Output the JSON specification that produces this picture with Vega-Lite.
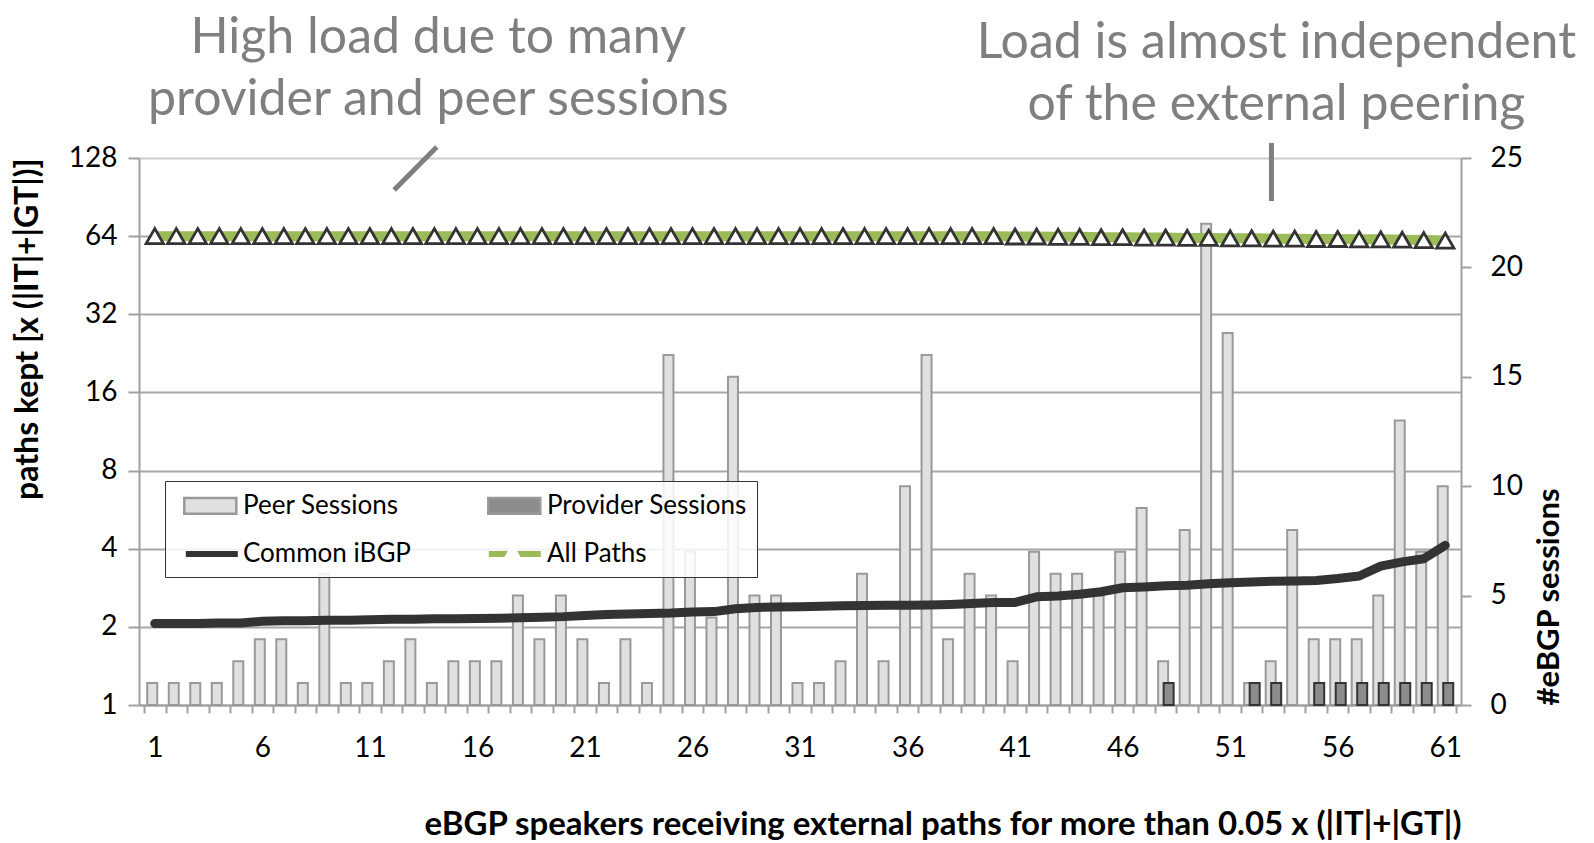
{
  "$schema": "https://vega.github.io/schema/vega-lite/v6.json",
  "width": 1322,
  "height": 547,
  "autosize": {"type": "none"},
  "padding": {"left": 139, "top": 158, "right": 133, "bottom": 138},
  "background": "white",
  "config": {
    "view": {"stroke": null},
    "font": "Lato",
    "axis": {
      "labelFont": "Lato", "labelColor": "#000000", "labelFontSize": 28,
      "titleFont": "Lato", "titleColor": "#000000", "titleFontWeight": "bold",
      "domainColor": "#A0A0A0", "domainWidth": 2, "tickColor": "#A0A0A0", "tickWidth": 2
    }
  },
  "datasets": {
    "main": [
      {"k":1,"peer":1,"provider":0,"ibgp":2.06,"all":64},
      {"k":2,"peer":1,"provider":0,"ibgp":2.06,"all":64},
      {"k":3,"peer":1,"provider":0,"ibgp":2.06,"all":64},
      {"k":4,"peer":1,"provider":0,"ibgp":2.07,"all":64},
      {"k":5,"peer":2,"provider":0,"ibgp":2.07,"all":64},
      {"k":6,"peer":3,"provider":0,"ibgp":2.10,"all":64},
      {"k":7,"peer":3,"provider":0,"ibgp":2.11,"all":64},
      {"k":8,"peer":1,"provider":0,"ibgp":2.11,"all":64},
      {"k":9,"peer":6,"provider":0,"ibgp":2.12,"all":64},
      {"k":10,"peer":1,"provider":0,"ibgp":2.12,"all":64},
      {"k":11,"peer":1,"provider":0,"ibgp":2.13,"all":64},
      {"k":12,"peer":2,"provider":0,"ibgp":2.14,"all":64},
      {"k":13,"peer":3,"provider":0,"ibgp":2.14,"all":64},
      {"k":14,"peer":1,"provider":0,"ibgp":2.15,"all":64},
      {"k":15,"peer":2,"provider":0,"ibgp":2.15,"all":64},
      {"k":16,"peer":2,"provider":0,"ibgp":2.155,"all":64},
      {"k":17,"peer":2,"provider":0,"ibgp":2.16,"all":64},
      {"k":18,"peer":5,"provider":0,"ibgp":2.17,"all":64},
      {"k":19,"peer":3,"provider":0,"ibgp":2.18,"all":64},
      {"k":20,"peer":5,"provider":0,"ibgp":2.19,"all":64},
      {"k":21,"peer":3,"provider":0,"ibgp":2.21,"all":64},
      {"k":22,"peer":1,"provider":0,"ibgp":2.23,"all":64},
      {"k":23,"peer":3,"provider":0,"ibgp":2.24,"all":64},
      {"k":24,"peer":1,"provider":0,"ibgp":2.25,"all":64},
      {"k":25,"peer":16,"provider":0,"ibgp":2.26,"all":64},
      {"k":26,"peer":7,"provider":0,"ibgp":2.28,"all":64},
      {"k":27,"peer":4,"provider":0,"ibgp":2.29,"all":64},
      {"k":28,"peer":15,"provider":0,"ibgp":2.35,"all":64},
      {"k":29,"peer":5,"provider":0,"ibgp":2.375,"all":64},
      {"k":30,"peer":5,"provider":0,"ibgp":2.385,"all":64},
      {"k":31,"peer":1,"provider":0,"ibgp":2.39,"all":64},
      {"k":32,"peer":1,"provider":0,"ibgp":2.40,"all":64},
      {"k":33,"peer":2,"provider":0,"ibgp":2.41,"all":64},
      {"k":34,"peer":6,"provider":0,"ibgp":2.415,"all":64},
      {"k":35,"peer":2,"provider":0,"ibgp":2.42,"all":64},
      {"k":36,"peer":10,"provider":0,"ibgp":2.424,"all":64},
      {"k":37,"peer":16,"provider":0,"ibgp":2.43,"all":64},
      {"k":38,"peer":3,"provider":0,"ibgp":2.44,"all":64},
      {"k":39,"peer":6,"provider":0,"ibgp":2.46,"all":64},
      {"k":40,"peer":5,"provider":0,"ibgp":2.48,"all":64},
      {"k":41,"peer":2,"provider":0,"ibgp":2.485,"all":63.8},
      {"k":42,"peer":7,"provider":0,"ibgp":2.61,"all":63.8},
      {"k":43,"peer":6,"provider":0,"ibgp":2.63,"all":63.6},
      {"k":44,"peer":6,"provider":0,"ibgp":2.67,"all":63.6},
      {"k":45,"peer":5,"provider":0,"ibgp":2.73,"all":63.4},
      {"k":46,"peer":7,"provider":0,"ibgp":2.83,"all":63.4},
      {"k":47,"peer":9,"provider":0,"ibgp":2.85,"all":63.2},
      {"k":48,"peer":2,"provider":1,"ibgp":2.88,"all":63.2},
      {"k":49,"peer":8,"provider":0,"ibgp":2.89,"all":63.0},
      {"k":50,"peer":22,"provider":0,"ibgp":2.93,"all":63.0},
      {"k":51,"peer":17,"provider":0,"ibgp":2.96,"all":62.8},
      {"k":52,"peer":1,"provider":1,"ibgp":2.98,"all":62.8},
      {"k":53,"peer":2,"provider":1,"ibgp":3.00,"all":62.6},
      {"k":54,"peer":8,"provider":0,"ibgp":3.005,"all":62.6},
      {"k":55,"peer":3,"provider":1,"ibgp":3.015,"all":62.4},
      {"k":56,"peer":3,"provider":1,"ibgp":3.07,"all":62.4},
      {"k":57,"peer":3,"provider":1,"ibgp":3.14,"all":62.2},
      {"k":58,"peer":5,"provider":1,"ibgp":3.43,"all":62.2},
      {"k":59,"peer":13,"provider":1,"ibgp":3.56,"all":62.0},
      {"k":60,"peer":7,"provider":1,"ibgp":3.66,"all":61.8},
      {"k":61,"peer":10,"provider":1,"ibgp":4.12,"all":61.5}
    ],
    "rules": [
      {"k": 12.13, "k2": 14.11, "v": 96.4, "v2": 141.2},
      {"k": 52.92, "k2": 52.92, "v": 87.4, "v2": 146.3}
    ],
    "notes": [
      {"k": 14.18, "v": 325, "note": "High load due to many"},
      {"k": 14.18, "v": 187.5, "note": "provider and peer sessions"},
      {"k": 53.15, "v": 310.8, "note": "Load is almost independent"},
      {"k": 53.15, "v": 179.4, "note": "of the external peering"}
    ]
  },
  "encoding": {
    "x": {
      "field": "k", "type": "quantitative",
      "scale": {"domain": [0.5, 61.5], "nice": false, "zero": false},
      "axis": {
        "values": [0.5,1.5,2.5,3.5,4.5,5.5,6.5,7.5,8.5,9.5,10.5,11.5,12.5,13.5,14.5,15.5,16.5,17.5,18.5,19.5,20.5,21.5,22.5,23.5,24.5,25.5,26.5,27.5,28.5,29.5,30.5,31.5,32.5,33.5,34.5,35.5,36.5,37.5,38.5,39.5,40.5,41.5,42.5,43.5,44.5,45.5,46.5,47.5,48.5,49.5,50.5,51.5,52.5,53.5,54.5,55.5,56.5,57.5,58.5,59.5,60.5,61.5],
        "labelExpr": "(datum.value + 0.5) % 5 === 1 ? '' + (datum.value + 0.5) : ''",
        "labelOffset": 10.84,
        "labelOverlap": false, "labelBound": false, "labelFlush": false,
        "tickSize": 8, "labelPadding": 21, "grid": false,
        "title": "eBGP speakers receiving external paths for more than 0.05 x (|IT|+|GT|)",
        "titleAnchor": "end", "titleFontSize": 33, "titlePadding": 46
      }
    }
  },
  "layer": [
    {
      "data": {"name": "main"},
      "layer": [
        {
          "mark": {"type": "bar", "size": 10, "xOffset": -2.5, "stroke": "#999999", "strokeWidth": 2},
          "encoding": {
            "y": {
              "field": "peer", "type": "quantitative",
              "scale": {"domain": [0, 25], "nice": false},
              "axis": {
                "orient": "right", "values": [0,5,10,15,20,25], "grid": false,
                "tickSize": 10, "labelPadding": 19,
                "title": "#eBGP sessions", "titleAngle": 270, "titleAnchor": "start",
                "titleFontSize": 31, "titlePadding": 27, "titleBaseline": "middle"
              }
            },
            "fill": {
              "datum": "Peer Sessions",
              "scale": {"domain": ["Peer Sessions", "Provider Sessions"], "range": ["#E0E0E0", "#8C8C8C"]},
              "legend": {
                "title": null, "orient": "none", "legendX": 26, "legendY": 323, "zindex": 2,
                "columns": 2, "columnPadding": 236, "padding": 10,
                "labelFontSize": 20, "labelOffset": 39, "labelExpr": "''",
                "symbolSize": 676, "symbolType": "M-0.4,-0.6H3.6V0.6H-0.4Z", "symbolStrokeWidth": 2.5, "symbolOpacity": 1,
                "encode": {
                  "symbols": {
                    "stroke": {"condition": {"test": "datum.value === 'Peer Sessions'", "value": "#999999"}, "value": "#333333"},
                    "strokeWidth": {"value": 2.5},
                    "opacity": {"value": 1}
                  }
                }
              }
            }
          }
        },
        {
          "transform": [{"filter": "datum.provider > 0"}],
          "mark": {"type": "bar", "size": 10, "xOffset": 3, "fill": "#8C8C8C", "stroke": "#333333", "strokeWidth": 2},
          "encoding": {
            "y": {"field": "provider", "type": "quantitative"}
          }
        }
      ]
    },
    {
      "layer": [
        {
          "data": {"name": "main"},
          "mark": {"type": "line", "strokeWidth": 9, "strokeCap": "round", "strokeJoin": "round"},
          "encoding": {
            "y": {
              "field": "ibgp", "type": "quantitative",
              "scale": {"type": "log", "base": 2, "domain": [1, 128], "nice": false},
              "axis": {
                "orient": "left", "values": [1,2,4,8,16,32,64,128], "format": "d",
                "grid": true, "gridWidth": 2,
                "gridColor": {"condition": {"test": "datum.value === 128", "value": "#CCCCCC"}, "value": "#A6A6A6"},
                "tickSize": 11, "labelPadding": 11,
                "title": "paths kept [x (|IT|+|GT|)]", "titleAnchor": "end", "titleAngle": 270,
                "titleFontSize": 32, "titlePadding": 41, "titleBaseline": "middle"
              }
            },
            "stroke": {
              "datum": "Common iBGP",
              "scale": {"domain": ["Common iBGP", "All Paths"], "range": ["#333333", "#9BBB59"]},
              "legend": {
                "title": null, "orient": "none", "legendX": 26, "legendY": 370, "zindex": 2,
                "columns": 2, "columnPadding": 226, "padding": 10,
                "labelFontSize": 20, "labelOffset": 39, "labelExpr": "''",
                "symbolType": "M-0.4,0H3.6", "symbolSize": 676,
                "symbolStrokeWidth": 6, "symbolOpacity": 1
              }
            }
          }
        },
        {
          "data": {"name": "main"},
          "mark": {"type": "line", "strokeWidth": 10},
          "encoding": {
            "y": {"field": "all", "type": "quantitative"},
            "stroke": {
              "datum": "All Paths",
              "scale": {"domain": ["Common iBGP", "All Paths"], "range": ["#333333", "#9BBB59"]}
            }
          }
        },
        {
          "data": {"name": "main"},
          "mark": {"type": "point", "filled": false, "fill": "#FFFFFF", "fillOpacity": 1, "color": "#333333", "stroke": "#333333", "strokeWidth": 2.8, "size": 300, "opacity": 1},
          "encoding": {
            "y": {"field": "all", "type": "quantitative"},
            "shape": {
              "datum": "tri",
              "scale": {"domain": ["tri"], "range": ["triangle-up"]},
              "legend": {
                "title": null, "orient": "none", "legendX": 363, "legendY": 382, "padding": 0, "zindex": 3,
                "labelExpr": "''", "symbolType": "triangle-up", "symbolSize": 300,
                "symbolFillColor": "#FFFFFF", "symbolStrokeColor": "#333333", "symbolStrokeWidth": 2.8, "symbolOpacity": 1,
                "encode": {
                  "symbols": {
                    "fill": {"value": "#FFFFFF"},
                    "stroke": {"value": "#333333"},
                    "strokeWidth": {"value": 2.8},
                    "opacity": {"value": 1}
                  }
                }
              }
            }
          }
        },
        {
          "data": {"name": "rules"},
          "mark": {"type": "rule", "color": "#7F7F7F", "strokeWidth": 5},
          "encoding": {
            "x2": {"field": "k2"},
            "y": {"field": "v", "type": "quantitative"},
            "y2": {"field": "v2"}
          }
        },
        {
          "data": {"name": "notes"},
          "mark": {"type": "text", "font": "Lato", "fontSize": 50, "align": "center", "baseline": "alphabetic"},
          "encoding": {
            "y": {"field": "v", "type": "quantitative"},
            "text": {"field": "note"},
            "color": {
              "datum": "All Paths",
              "scale": {"domain": ["Peer Sessions", "Common iBGP", "Provider Sessions", "All Paths"], "range": ["#E0E0E0", "#333333", "#8C8C8C", "#7F7F7F"]},
              "legend": {
                "title": null, "orient": "none", "legendX": 26, "legendY": 323, "zindex": 1,
                "columns": 2, "columnPadding": 68, "rowPadding": 20, "padding": 10,
                "fillColor": "rgba(255,255,255,0.85)", "strokeColor": "#333333",
                "labelFont": "Lato", "labelFontSize": 26, "labelColor": "#000000", "labelOffset": 39, "labelLimit": 400,
                "symbolSize": 676, "symbolType": "M-0.4,-0.6H3.6V0.6H-0.4Z", "symbolStrokeWidth": 2.5, "symbolOpacity": 0,
                "encode": {"legend": {"strokeWidth": {"value": 2}}}
              }
            }
          }
        }
      ]
    }
  ],
  "resolve": {"scale": {"y": "independent"}}
}
